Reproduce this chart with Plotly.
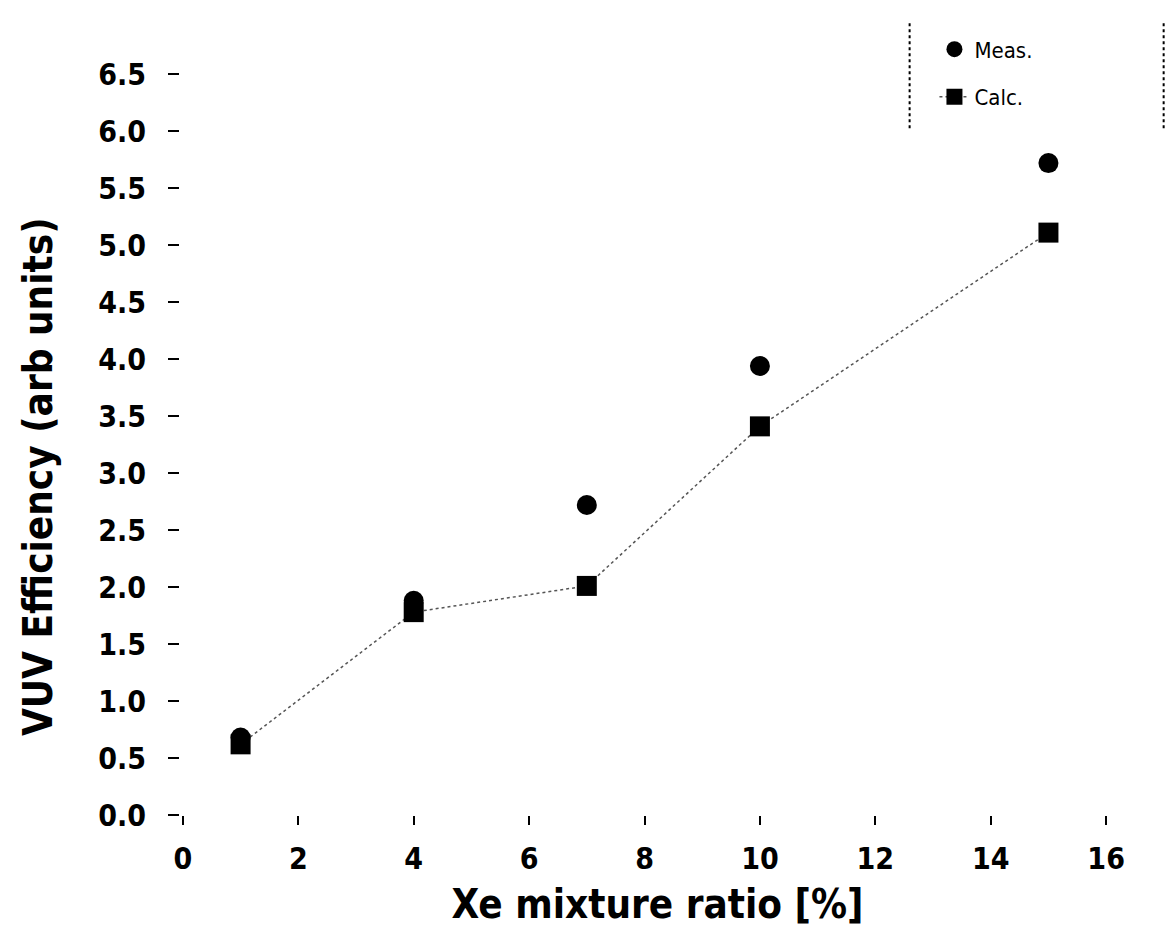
import plotly.graph_objects as go

xe_ratio = [1, 4, 7, 10, 15]
series_a = [0.68, 1.88, 2.72, 3.94, 5.72]
series_b = [0.62, 1.78, 2.01, 3.41, 5.11]
name_a = "Meas."
name_b = "Calc."
x_ticks = [0, 2, 4, 6, 8, 10, 12, 14, 16]
y_ticks = [0.0, 0.5, 1.0, 1.5, 2.0, 2.5, 3.0, 3.5, 4.0, 4.5, 5.0, 5.5, 6.0, 6.5]

FONT = "Liberation Sans Narrow, DejaVu Sans Condensed, Arial Narrow, sans-serif"

fig = go.Figure()
fig.add_trace(go.Scatter(
    x=xe_ratio, y=series_a, mode="markers", name=name_a, legendgroup="a",
    marker=dict(symbol="circle", size=20, color="black"),
))
fig.add_trace(go.Scatter(
    x=xe_ratio, y=series_b, mode="lines+markers", name=name_b, legendgroup="b",
    marker=dict(symbol="square", size=20, color="black"),
    line=dict(color="#555555", width=1.5, dash="dot"),
))

fig.update_layout(
    width=1176, height=935,
    paper_bgcolor="white", plot_bgcolor="white",
    margin=dict(l=172, r=49, t=32, b=128),
    font=dict(family=FONT, color="black"),
    showlegend=True,
    legend=dict(
        x=0.79, y=1.015, xanchor="left", yanchor="top",
        bgcolor="rgba(0,0,0,0)", borderwidth=0,
        font=dict(size=22, family=FONT, color="black"),
        traceorder="grouped", tracegroupgap=16, itemsizing="trace",
    ),
    shapes=[
        dict(type="line", xref="paper", yref="paper", x0=0.764, x1=0.764, y0=0.886, y1=1.022,
             line=dict(color="black", width=2, dash="dot")),
        dict(type="line", xref="paper", yref="paper", x0=1.03, x1=1.03, y0=0.886, y1=1.022,
             line=dict(color="black", width=2, dash="dot")),
    ],
    annotations=[
        dict(text="<b>VUV Efficiency (arb units)</b>", xref="paper", yref="paper",
             x=-0.148, y=0.437, xanchor="center", yanchor="middle", textangle=-90,
             showarrow=False, font=dict(size=40, family=FONT, color="black")),
    ],
)

fig.update_xaxes(
    range=[-0.05, 16.5], tickvals=x_ticks, ticktext=[str(v) for v in x_ticks],
    showline=False, showgrid=False, zeroline=False,
    ticks="outside", ticklen=9, tickwidth=2, tickcolor="black",
    ticklabelstandoff=8,
    tickfont=dict(size=30, family=FONT, color="black", weight="bold"),
    title=dict(text="<b>Xe mixture ratio [%]</b>", font=dict(size=40, family=FONT, color="black"), standoff=14),
)
fig.update_yaxes(
    range=[0, 6.8], tickvals=y_ticks, ticktext=[f"{v:.1f}" for v in y_ticks],
    showline=False, showgrid=False, zeroline=False,
    ticks="outside", ticklen=11, tickwidth=2, tickcolor="black",
    ticklabelstandoff=16,
    tickfont=dict(size=30, family=FONT, color="black", weight="bold"),
)

fig.write_html("out.html")
